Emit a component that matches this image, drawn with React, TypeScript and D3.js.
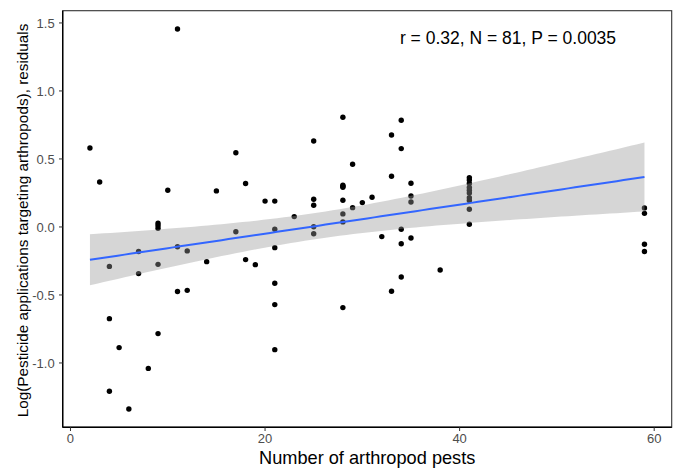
import React from "react";
import * as d3 from "d3";

// Number of arthropod pests (x) and residual log pesticide applications (y)
const pestCounts: number[] = [
  2, 3, 4, 4, 4, 5, 6, 7, 7, 8,
  9, 9, 9, 9, 9, 10, 11, 11, 11, 12,
  12, 14, 15, 17, 17, 18, 18, 19, 20, 21,
  21, 21, 21, 21, 21, 23, 25, 25, 25, 25,
  25, 28, 28, 28, 28, 28, 28, 28, 28, 29,
  29, 30, 31, 32, 33, 33, 33, 34, 34, 34,
  34, 34, 35, 35, 35, 35, 38, 41, 41, 41,
  41, 41, 41, 41, 41, 41, 41, 59, 59, 59,
  59,
];
const residuals: number[] = [
  0.58, 0.33, -0.29, -0.674, -1.208, -0.887, -1.338, -0.18, -0.343, -1.04,
  0.027, 0.01, -0.01, -0.275, -0.784, 0.27, 1.456, -0.145, -0.475, -0.176,
  -0.466, -0.255, 0.265, 0.546, -0.035, 0.32, -0.24, -0.277, 0.19, 0.19,
  -0.017, -0.152, -0.414, -0.571, -0.902, 0.076, 0.632, 0.204, 0.16, 0.002,
  -0.05, 0.807, 0.307, 0.3, 0.292, 0.196, 0.096, 0.037, -0.593, 0.461,
  0.142, 0.179, 0.218, -0.071, 0.676, 0.373, -0.473, 0.784, 0.576, -0.017,
  -0.123, -0.368, 0.321, 0.228, 0.184, -0.081, -0.316, 0.363, 0.345, 0.32,
  0.29, 0.27, 0.25, 0.215, 0.195, 0.13, 0.02, 0.14, 0.1, -0.127,
  -0.181,
];
const xTicks: number[] = [0, 20, 40, 60];
const yTicks: number[] = [-1.0, -0.5, 0.0, 0.5, 1.0, 1.5];
const xTitle = "Number of arthropod pests";
const yTitle = "Log(Pesticide applications targeting arthropods), residuals";
const statLabel = "r = 0.32, N = 81, P = 0.0035";

const W = 679;
const H = 468;
const P = { left: 62.7, right: 671.7, top: 10.7, bottom: 427.3 };
const FONT = "'Liberation Sans', Arial, Helvetica, sans-serif";

export default function App() {
  const x = d3.scaleLinear().domain([-0.8, 61.8]).range([P.left, P.right]);
  const y = d3.scaleLinear().domain([-1.473, 1.59]).range([P.bottom, P.top]);

  const n = pestCounts.length;
  const xm = d3.mean(pestCounts) as number;
  const ym = d3.mean(residuals) as number;
  let sxx = 0, sxy = 0;
  for (let i = 0; i < n; i++) {
    sxx += (pestCounts[i] - xm) ** 2;
    sxy += (pestCounts[i] - xm) * (residuals[i] - ym);
  }
  const b = sxy / sxx;
  const a = ym - b * xm;
  let sse = 0;
  for (let i = 0; i < n; i++) sse += (residuals[i] - (a + b * pestCounts[i])) ** 2;
  const s = Math.sqrt(sse / (n - 2));
  const tq = 1.990;
  const [x0, x1] = d3.extent(pestCounts) as [number, number];
  const grid = d3.range(0, 81).map((i) => x0 + ((x1 - x0) * i) / 80);
  const band = grid.map((gx) => {
    const fit = a + b * gx;
    const se = s * Math.sqrt(1 / n + (gx - xm) ** 2 / sxx);
    return { gx, fit, lo: fit - tq * se, hi: fit + tq * se };
  });
  const area = d3
    .area<{ gx: number; lo: number; hi: number }>()
    .x((d) => x(d.gx))
    .y0((d) => y(d.lo))
    .y1((d) => y(d.hi));
  const line = d3
    .line<{ gx: number; fit: number }>()
    .x((d) => x(d.gx))
    .y((d) => y(d.fit));

  return (
    <>
      <style>{`body{margin:0}`}</style>
      <svg width={W} height={H} style={{ display: "block", background: "#fff" }} fontFamily={FONT}>
        <rect x={0} y={0} width={W} height={H} fill="#fff" />
        {pestCounts.map((px, i) => (
          <circle key={i} cx={x(px)} cy={y(residuals[i])} r={2.7} fill="#000" />
        ))}
        <path d={area(band) || ""} fill="#999999" fillOpacity={0.4} />
        <path d={line(band) || ""} fill="none" stroke="#3366FF" strokeWidth={2} />
        <rect
          x={P.left}
          y={P.top}
          width={P.right - P.left}
          height={P.bottom - P.top}
          fill="none"
          stroke="#333"
          strokeWidth={1.1}
        />
        <line x1={P.left} x2={P.left} y1={P.top} y2={P.bottom} stroke="#000" strokeWidth={1.4} />
        <line x1={P.left} x2={P.right} y1={P.bottom} y2={P.bottom} stroke="#000" strokeWidth={1.4} />
        {yTicks.map((t) => (
          <g key={t}>
            <line x1={P.left - 3.7} x2={P.left} y1={y(t)} y2={y(t)} stroke="#333" strokeWidth={1} />
            <text x={P.left - 8} y={y(t)} dy="0.36em" textAnchor="end" fontSize={13} fill="#4D4D4D">
              {t.toFixed(1)}
            </text>
          </g>
        ))}
        {xTicks.map((t) => (
          <g key={t}>
            <line x1={x(t)} x2={x(t)} y1={P.bottom} y2={P.bottom + 3.7} stroke="#333" strokeWidth={1} />
            <text x={x(t)} y={443} textAnchor="middle" fontSize={13} fill="#4D4D4D">
              {t}
            </text>
          </g>
        ))}
        <text x={(P.left + P.right) / 2} y={464} textAnchor="middle" fontSize={18.2} fill="#000">
          {xTitle}
        </text>
        <text
          transform={`translate(28, 220.5) rotate(-90)`}
          textAnchor="middle"
          fontSize={15.3}
          fill="#000"
        >
          {yTitle}
        </text>
        <text x={508} y={44} textAnchor="middle" fontSize={17.5} fill="#000">
          {statLabel}
        </text>
      </svg>
    </>
  );
}
